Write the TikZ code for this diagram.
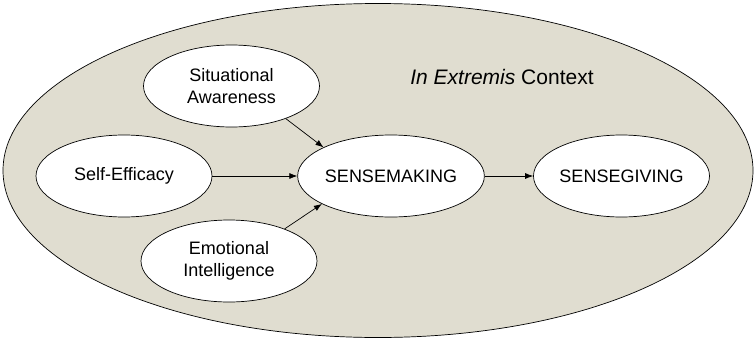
\documentclass[tikz,border=0pt]{standalone}
\usepackage{fontspec}
\setmainfont{Liberation Sans}
\usetikzlibrary{shapes.geometric,arrows.meta}
\definecolor{ctxfill}{RGB}{224,221,208}
\begin{document}
\begin{tikzpicture}[x=1pt,y=-1pt,
  factor/.style={ellipse,draw,fill=white,line width=0.7pt,minimum width=176pt,minimum height=82pt,inner sep=0pt,align=center,font=\fontsize{18}{22}\selectfont},
  link/.style={-{Latex[length=8pt,width=6pt]},line width=0.7pt}]
\useasboundingbox (0,0) rectangle (754,340);
%context
\draw[fill=ctxfill,line width=0.7pt] (378,170.5) ellipse [x radius=375, y radius=167];
\node[font=\fontsize{21}{25}\selectfont] (ctx) at (502,77) {\textit{In Extremis} Context};
%antecedents
\node[factor] (sa) at (231.5,86) {Situational\\Awareness};
\node[factor] (se) at (124,176) {Self-Efficacy};
\node[factor] (ei) at (229,261) {Emotional\\Intelligence};
%outcomes
\node[factor] (sm) at (391,176) {SENSEMAKING};
\node[factor] (sg) at (621.5,176) {SENSEGIVING};
\draw[link] (sa.-31) -- (sm.157);
\draw[link] (se) -- (sm);
\draw[link] (ei.30) -- (sm.202);
\draw[link] (sm) -- (sg);
\end{tikzpicture}
\end{document}
